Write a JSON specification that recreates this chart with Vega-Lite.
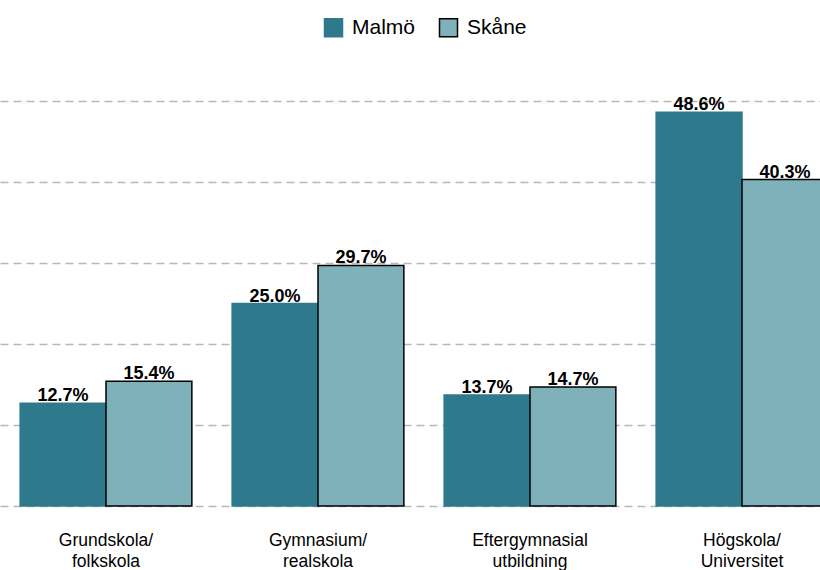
{
  "$schema": "https://vega.github.io/schema/vega-lite/v6.json",
  "width": 809,
  "height": 405,
  "autosize": {"type": "none"},
  "padding": {"left": 11, "top": 101, "right": 0, "bottom": 64},
  "background": "white",
  "config": {
    "view": {"stroke": null},
    "font": "Liberation Sans"
  },
  "data": {
    "values": [
      {"niva": "Grundskola/ folkskola", "omrade": "Malmö", "andel": 0.127},
      {"niva": "Grundskola/ folkskola", "omrade": "Skåne", "andel": 0.154},
      {"niva": "Gymnasium/ realskola", "omrade": "Malmö", "andel": 0.250},
      {"niva": "Gymnasium/ realskola", "omrade": "Skåne", "andel": 0.297},
      {"niva": "Eftergymnasial utbildning", "omrade": "Malmö", "andel": 0.137},
      {"niva": "Eftergymnasial utbildning", "omrade": "Skåne", "andel": 0.147},
      {"niva": "Högskola/ Universitet", "omrade": "Malmö", "andel": 0.486},
      {"niva": "Högskola/ Universitet", "omrade": "Skåne", "andel": 0.403}
    ]
  },
  "encoding": {
    "x": {
      "field": "niva",
      "type": "nominal",
      "sort": null,
      "title": null,
      "scale": {"range": [-11, 837], "paddingInner": 0.19, "paddingOuter": 0.095},
      "axis": {
        "labelAngle": 0,
        "labelExpr": "split(datum.label, ' ')",
        "labelFontSize": 17.5,
        "labelColor": "#000",
        "labelLineHeight": 21,
        "labelPadding": 25,
        "domain": false,
        "ticks": false,
        "labelFont": "Liberation Sans"
      }
    },
    "xOffset": {"field": "omrade", "type": "nominal", "sort": ["Malmö", "Skåne"]},
    "y": {
      "field": "andel",
      "type": "quantitative",
      "scale": {"domain": [0, 0.5]},
      "title": null,
      "axis": {
        "values": [0, 0.1, 0.2, 0.3, 0.4, 0.5],
        "labels": false,
        "ticks": false,
        "domain": false,
        "grid": true,
        "gridColor": "#b8b8b8",
        "gridDash": [8, 5],
        "gridWidth": 1.5
      }
    }
  },
  "layer": [
    {
      "mark": {"type": "bar", "strokeWidth": 1.5, "clip": false},
      "encoding": {
        "color": {
          "field": "omrade",
          "type": "nominal",
          "sort": ["Malmö", "Skåne"],
          "scale": {"range": ["#2e7a8c", "#7fb1bb"]},
          "title": null,
          "legend": {
            "orient": "none",
            "direction": "horizontal",
            "legendX": 312,
            "legendY": -84,
            "symbolType": "square",
            "symbolSize": 324,
            "symbolOpacity": 1,
            "symbolStrokeWidth": 1.5,
            "labelFontSize": 21,
            "labelColor": "#000",
            "labelOffset": 8,
            "columnPadding": 20,
            "padding": 0,
            "labelFont": "Liberation Sans",
            "encode": {
              "symbols": {
                "update": {
                  "stroke": {"signal": "datum.value === 'Skåne' ? '#000000' : datum.value === 'Malmö' ? '#2e7a8c' : null"},
                  "strokeWidth": {"value": 1.5}
                }
              }
            }
          }
        },
        "stroke": {
          "field": "omrade",
          "type": "nominal",
          "sort": ["Malmö", "Skåne"],
          "scale": {"range": ["#2e7a8c", "#000000"]},
          "title": null,
          "legend": null
        }
      }
    },
    {
      "mark": {"type": "text", "baseline": "alphabetic", "dy": -2, "fontSize": 18, "fontWeight": "bold", "color": "#000", "font": "Liberation Sans"},
      "encoding": {
        "text": {"field": "andel", "type": "quantitative", "format": ".1%"}
      }
    }
  ]
}
